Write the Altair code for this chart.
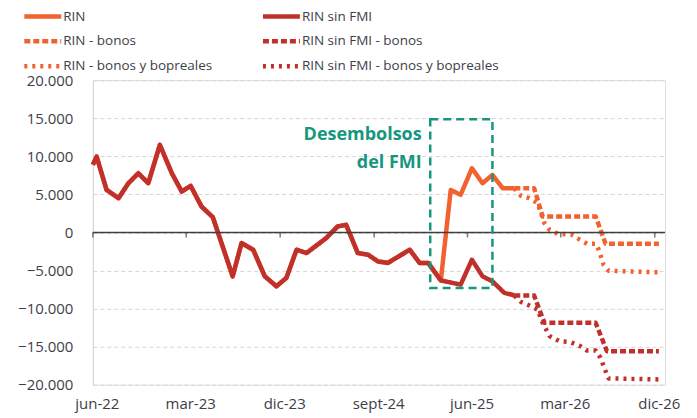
import altair as alt
import pandas as pd

ORANGE = "#F26230"
RED = "#C1312B"
GREEN = "#16977D"
TEXT = "#3E3E48"
FONT = "Open Sans"

# Historical path (RIN and RIN sin FMI coincide)
hist_dates = ["2022-06-01", "2022-06-12", "2022-07-11", "2022-08-15", "2022-09-13", "2022-10-12",
              "2022-11-10", "2022-12-14", "2023-01-18", "2023-02-16", "2023-03-14", "2023-04-15",
              "2023-05-18", "2023-07-15", "2023-08-10", "2023-09-13", "2023-10-17", "2023-11-20",
              "2023-12-19", "2024-01-18", "2024-02-16", "2024-04-14", "2024-05-17", "2024-06-11",
              "2024-07-15", "2024-08-14", "2024-09-12", "2024-10-11", "2024-12-14", "2025-01-12",
              "2025-02-06", "2025-03-15"]
hist_values = [8900, 9960, 5600, 4500, 6470, 7780,
               6470, 11500, 7780, 5370, 6120, 3400,
               2000, -5760, -1390, -2270, -5760, -7070,
               -5970, -2270, -2700, -730, 790, 1000,
               -2700, -2920, -3800, -4000, -2270, -4000,
               -4000, -6300]

# After the split
rin_dates = ["2025-04-13", "2025-05-12", "2025-06-14", "2025-07-15", "2025-08-13", "2025-09-12", "2025-10-16"]
rin_values = [5590, 4940, 8440, 6470, 7560, 5820, 5820]
sin_dates = ["2025-05-12", "2025-06-14", "2025-07-15", "2025-08-13", "2025-09-17", "2025-10-16"]
sin_values = [-6850, -3580, -5760, -6420, -7940, -8250]

# Projections
rin_bonos_dates = ["2025-10-16", "2025-12-13", "2026-01-07", "2026-06-11", "2026-07-10", "2026-12-13"]
rin_bonos_values = [5820, 5820, 2100, 2100, -1480, -1480]
rin_bb_dates = ["2025-10-16", "2025-11-05", "2025-11-29", "2025-12-23", "2026-01-02", "2026-01-12",
                "2026-01-27", "2026-02-20", "2026-04-03", "2026-04-23", "2026-05-17", "2026-06-11",
                "2026-06-20", "2026-07-04", "2026-07-19", "2026-12-13"]
rin_bb_values = [5820, 4800, 4500, 3850, 2540, 1230,
                 350, -170, -300, -870, -1480, -1480,
                 -2270, -4230, -5020, -5240]
sin_bonos_dates = ["2025-10-16", "2025-12-13", "2026-01-12", "2026-06-11", "2026-07-14", "2026-12-13"]
sin_bonos_values = [-8290, -8290, -11870, -11870, -15590, -15590]
sin_bb_dates = ["2025-10-16", "2025-11-05", "2025-11-29", "2025-12-23", "2026-01-07", "2026-01-27",
                "2026-02-25", "2026-03-29", "2026-04-27", "2026-05-17", "2026-06-11", "2026-06-25",
                "2026-07-10", "2026-07-19", "2026-12-13"]
sin_bb_values = [-8290, -9130, -9600, -10130, -11870, -13600,
                 -14280, -14400, -14930, -15500, -15500, -16450,
                 -18200, -19170, -19300]

series = ["RIN", "RIN sin FMI", "RIN - bonos", "RIN sin FMI - bonos",
          "RIN - bonos y bopreales", "RIN sin FMI - bonos y bopreales"]
colors = [ORANGE, RED, ORANGE, RED, ORANGE, RED]
dashes = [[1, 0], [1, 0], [6, 3], [6, 3], [3, 5], [3, 5]]
widths = [4.5, 4.5, 2.6, 2.6, 3, 3]

tick_dates = ["2022-06-01", "2023-03-01", "2023-12-01", "2024-09-01", "2025-06-01", "2026-03-01", "2026-12-01"]
y_ticks = [-20000, -15000, -10000, -5000, 0, 5000, 10000, 15000, 20000]

box_x = ["2025-02-12", "2025-08-13"]
box_y = [14860, -7280]
note_lines = ["Desembolsos", "del FMI"]
note_date = "2025-01-18"
note_value = 12140

rows = []
def add(name, dates, values):
    for d, v in zip(dates, values):
        rows.append({"date": d, "value": v, "serie": name})

add("RIN", hist_dates + rin_dates, hist_values + rin_values)
add("RIN sin FMI", hist_dates + sin_dates, hist_values + sin_values)
add("RIN - bonos", rin_bonos_dates, rin_bonos_values)
add("RIN sin FMI - bonos", sin_bonos_dates, sin_bonos_values)
add("RIN - bonos y bopreales", rin_bb_dates, rin_bb_values)
add("RIN sin FMI - bonos y bopreales", sin_bb_dates, sin_bb_values)
df = pd.DataFrame(rows)

def dt(s):
    y, m, d = (int(p) for p in s.split("-"))
    return alt.DateTime(year=y, month=m, date=d, utc=True)

xscale = alt.Scale(type="utc", domain=[dt("2022-06-01"), dt("2026-12-31")], nice=False)
yscale = alt.Scale(domain=[-20000, 20000], nice=False)

xaxis = alt.Axis(
    values=[dt(s) for s in tick_dates],
    labelExpr="['ene','feb','mar','abr','may','jun','jul','ago','sept','oct','nov','dic'][utcmonth(datum.value)] + '-' + utcFormat(datum.value, '%y')",
    ticks=False, domain=False, grid=False, title=None, labelOverlap=False, labelFlush=False,
    labelFont=FONT, labelFontSize=15, labelColor=TEXT, labelPadding=12, labelOffset=4,
)
yaxis = alt.Axis(
    values=y_ticks, tickCount=9,
    labelExpr="replace(format(datum.value, ','), ',', '.')",
    grid=True, gridDash=[4, 3], gridColor="#d6d6d6", gridWidth=1,
    ticks=False, domain=True, domainColor="#d6d6d6", title=None, labelOverlap=False,
    labelFont=FONT, labelFontSize=15, labelColor=TEXT, labelPadding=20,
)

# custom stroke symbol: 37px long line drawn with a small nominal size
legend = alt.Legend(
    title=None, orient="none", legendX=-71, legendY=-72.5, columns=2, direction="horizontal",
    symbolType="M-3,0H3", symbolSize=152, symbolOffset=12.33,
    labelFont=FONT, labelFontSize=13.5, labelColor=TEXT, labelOffset=12, labelLimit=400,
    columnPadding=41, rowPadding=6, padding=0,
)

enc = dict(
    x=alt.X("date:T", scale=xscale, axis=xaxis),
    y=alt.Y("value:Q", scale=yscale, axis=yaxis),
    color=alt.Color("serie:N", scale=alt.Scale(domain=series, range=colors), legend=legend),
    strokeDash=alt.StrokeDash("serie:N", scale=alt.Scale(domain=series, range=dashes), legend=legend),
    strokeWidth=alt.StrokeWidth("serie:N", scale=alt.Scale(domain=series, range=widths), legend=legend),
)

base = alt.Chart(df)

def layer(names, **kw):
    return base.transform_filter(
        alt.FieldOneOfPredicate(field="serie", oneOf=names)
    ).mark_line(strokeJoin="round", **kw).encode(**enc)

proj = layer(series[2:])
rin = layer(["RIN"])
sin = layer(["RIN sin FMI"])

zero = alt.Chart(pd.DataFrame({"v": [0]})).mark_rule(color="#404040", strokeWidth=1.5).encode(
    y=alt.Y("v:Q", scale=yscale, axis=yaxis))

ticks = alt.Chart(pd.DataFrame({"date": tick_dates, "v": [0] * len(tick_dates)})).mark_tick(
    orient="vertical", size=5, thickness=1.5, yOffset=2.5, color="#404040").encode(
    x=alt.X("date:T", scale=xscale, axis=xaxis), y=alt.Y("v:Q", scale=yscale, axis=yaxis))

box = alt.Chart(pd.DataFrame({"x1": [box_x[0]], "x2": [box_x[1]], "y1": [box_y[0]], "y2": [box_y[1]]})).mark_rect(
    filled=False, stroke=GREEN, strokeDash=[8, 5], strokeWidth=2.5).encode(
    x=alt.X("x1:T", scale=xscale, axis=xaxis), x2="x2:T",
    y=alt.Y("y1:Q", scale=yscale, axis=yaxis), y2="y2:Q")

note = alt.Chart(pd.DataFrame({"date": [note_date], "value": [note_value], "label": [note_lines]})).mark_text(
    align="right", baseline="alphabetic", font=FONT, fontSize=18, fontWeight="bold",
    color=GREEN, lineHeight=28).encode(
    x=alt.X("date:T", scale=xscale, axis=xaxis), y=alt.Y("value:Q", scale=yscale, axis=yaxis), text="label")

chart = alt.layer(proj, rin, sin, zero, ticks, box, note).properties(
    width=573, height=305,
    autosize=alt.AutoSizeParams(type="none"),
    padding={"left": 85, "top": 72, "right": 24, "bottom": 28},
).configure_view(stroke=None).configure(background="white")

chart.save("out.html", embed_options={"renderer": "svg", "actions": False})
